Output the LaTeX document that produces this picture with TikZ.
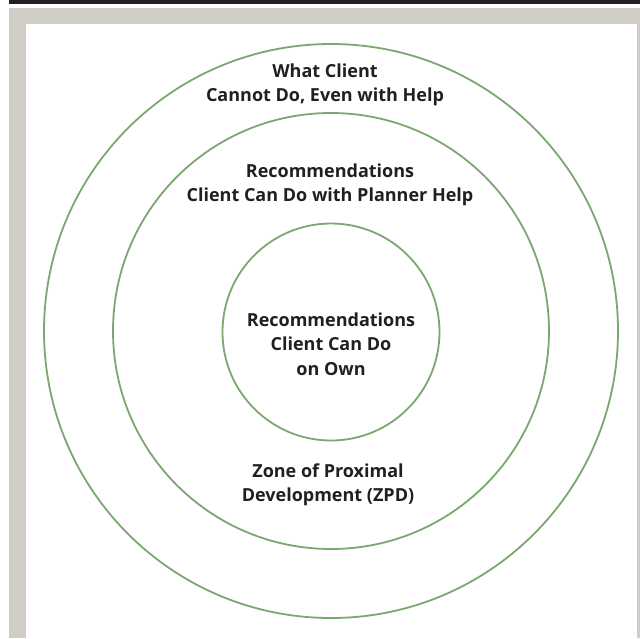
\documentclass[tikz,border=0pt]{standalone}
\usepackage{fontspec}
\setmainfont{Open Sans}
\definecolor{ringgreen}{RGB}{122,168,112}
\definecolor{framegray}{RGB}{208,204,198}
\definecolor{darkbar}{RGB}{35,31,32}
\definecolor{txt}{RGB}{35,31,32}
\tikzset{
  ring/.style={draw=ringgreen, line width=1.8pt, circle, inner sep=0pt},
  lbl/.style={align=center, text=txt, font=\bfseries\fontsize{18}{24.5}\selectfont, inner sep=0pt}
}
\begin{document}
\begin{tikzpicture}[x=1pt,y=-1pt]
\useasboundingbox (0,0) rectangle (640,638);
\fill[white] (0,0) rectangle (640,638);
\fill[darkbar] (9,0) rectangle (640,4);
\fill[framegray] (9,8) rectangle (640,638);
\fill[white] (26,24) rectangle (637,638);
\node[ring, minimum size=574pt] (outer) at (331,331) {};
\node[ring, minimum size=436pt] (middle) at (331,331) {};
\node[ring, minimum size=217pt] (inner) at (331,332) {};
\node[lbl] (t1) at (325,85) {What Client\\Cannot Do, Even with Help};
\node[lbl] (t2) at (330,185) {Recommendations\\Client Can Do with Planner Help};
\node[lbl] (t3) at (331,344) {Recommendations\\Client Can Do\\on Own};
\node[lbl] (t4) at (328,485) {Zone of Proximal\\Development (ZPD)};
\end{tikzpicture}
\end{document}
